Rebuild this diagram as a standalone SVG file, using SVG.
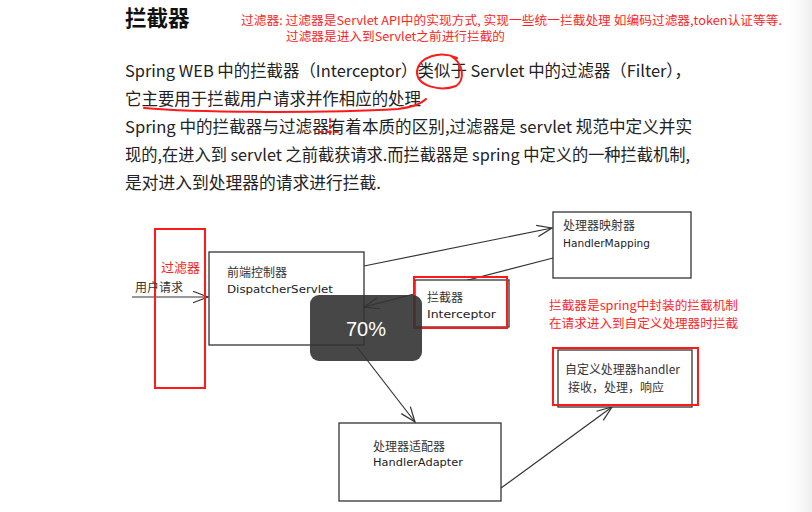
<svg xmlns="http://www.w3.org/2000/svg" width="812" height="512" viewBox="0 0 812 512">
<defs>
<linearGradient id="edge" x1="0" y1="0" x2="1" y2="0">
<stop offset="0" stop-color="#ffffff" stop-opacity="0"/>
<stop offset="1" stop-color="#ededed"/>
</linearGradient>
<marker id="arr" viewBox="0 0 17 13" refX="16" refY="6.5" markerWidth="17" markerHeight="13" markerUnits="userSpaceOnUse" orient="auto">
<path d="M1,0.8 L16,6.5 L1,12.2" fill="none" stroke="#333" stroke-width="1.2"/>
</marker>
<style>
.cjk{font-family:"Noto Sans CJK SC","Noto Sans",sans-serif;}
.para{font-family:"Noto Sans CJK SC","Noto Sans",sans-serif;font-size:16.5px;fill:#222;}
.red{font-family:"Noto Sans CJK SC","Noto Sans",sans-serif;fill:#ff2424;}
.lbl{font-family:"Noto Sans CJK SC",sans-serif;font-size:12px;fill:#333;}
.hand{font-family:"DejaVu Sans","Noto Sans",sans-serif;font-size:11px;fill:#222;}
.box{fill:#fff;stroke:#333;stroke-width:1.3;}
.rbox{fill:none;stroke:#ff1a1a;stroke-width:2;}
.conn{fill:none;stroke:#333;stroke-width:1.2;marker-end:url(#arr);}
.mark{fill:none;stroke:#ff1a1a;stroke-width:2;stroke-linecap:round;}
</style>
</defs>
<rect width="812" height="512" fill="#fff"/>
<rect x="782" y="0" width="30" height="512" fill="url(#edge)"/>

<g id="header">
<text x="125" y="26" class="cjk" font-size="21.5" font-weight="bold" fill="#111">拦截器</text>
<text x="241" y="25" class="red" font-size="12" textLength="541" lengthAdjust="spacingAndGlyphs">过滤器: 过滤器是Servlet API中的实现方式, 实现一些统一拦截处理 如编码过滤器,token认证等等.</text>
<text x="286" y="41" class="red" font-size="12" textLength="219" lengthAdjust="spacingAndGlyphs">过滤器是进入到Servlet之前进行拦截的</text>
</g>

<g id="paragraph">
<text x="125" y="77" class="para" textLength="566" lengthAdjust="spacingAndGlyphs">Spring WEB 中的拦截器（Interceptor）类似于 Servlet 中的过滤器（Filter），</text>
<text x="125" y="105" class="para" textLength="296" lengthAdjust="spacingAndGlyphs">它主要用于拦截用户请求并作相应的处理</text>
<text x="125" y="133" class="para" textLength="567" lengthAdjust="spacingAndGlyphs">Spring 中的拦截器与过滤器有着本质的区别,过滤器是 servlet 规范中定义并实</text>
<text x="125" y="161" class="para" textLength="565" lengthAdjust="spacingAndGlyphs">现的,在进入到 servlet 之前截获请求.而拦截器是 spring 中定义的一种拦截机制,</text>
<text x="125" y="189" class="para" textLength="256" lengthAdjust="spacingAndGlyphs">是对进入到处理器的请求进行拦截.</text>
</g>

<g id="annotations">
<path class="mark" d="M457,58 C440,50 419,57 417,71 C416,86 440,92 456,86 C465,80 464,64 451,56"/>
<path class="mark" d="M144,108 C200,113 330,113 398,109 C414,107 421,104 426,99"/>
<path class="mark" stroke-dasharray="3,3" stroke-width="1.8" d="M330,119 L330,137"/>
<path class="mark" stroke-dasharray="4,4" stroke-width="1.8" d="M319,132 L338,132"/>
</g>

<g id="connectors">
<line class="conn" x1="132" y1="297" x2="208" y2="297" stroke-width="1.6"/>
<line class="conn" x1="364" y1="266" x2="552" y2="228"/>
<line class="conn" x1="557" y1="257" x2="364" y2="307"/>
<line class="conn" x1="357" y1="347" x2="415" y2="422"/>
<line class="conn" x1="501" y1="488" x2="612" y2="407"/>
</g>

<g id="filter">
<rect class="rbox" x="155" y="229" width="50" height="159"/>
<text x="161" y="272" class="red" font-size="13">过滤器</text>
<text x="135" y="292" class="lbl">用户请求</text>
</g>

<g id="dispatcher">
<rect class="box" x="209" y="252" width="155" height="93" fill-opacity="0"/>
<text x="227" y="277" class="lbl">前端控制器</text>
<text x="227" y="293" class="hand" textLength="106" lengthAdjust="spacingAndGlyphs">DispatcherServlet</text>
</g>

<g id="handlerMapping">
<rect class="box" x="553" y="212" width="138" height="66"/>
<text x="563" y="230" class="lbl">处理器映射器</text>
<text x="563" y="247" class="hand" textLength="87" lengthAdjust="spacingAndGlyphs">HandlerMapping</text>
</g>

<g id="interceptor">
<rect class="box" x="415" y="280" width="94" height="47"/>
<rect class="rbox" x="414" y="277" width="93" height="51"/>
<text x="427" y="302" class="lbl">拦截器</text>
<text x="427" y="318" class="hand" textLength="69" lengthAdjust="spacingAndGlyphs">Interceptor</text>
</g>

<g id="interceptorNote">
<text x="549" y="310" class="red" font-size="12" textLength="189" lengthAdjust="spacingAndGlyphs">拦截器是spring中封装的拦截机制</text>
<text x="549" y="328" class="red" font-size="12" textLength="189" lengthAdjust="spacingAndGlyphs">在请求进入到自定义处理器时拦截</text>
</g>

<g id="handler">
<rect class="box" x="558" y="350" width="134" height="57"/>
<rect class="rbox" x="553" y="348" width="145" height="57"/>
<text x="565" y="374" class="lbl" textLength="115" lengthAdjust="spacingAndGlyphs">自定义处理器handler</text>
<text x="568" y="392" class="lbl">接收，处理，响应</text>
</g>

<g id="handlerAdapter">
<rect class="box" x="339" y="423" width="162" height="78"/>
<text x="373" y="451" class="lbl">处理器适配器</text>
<text x="373" y="466" class="hand" textLength="90" lengthAdjust="spacingAndGlyphs">HandlerAdapter</text>
</g>

<g id="zoomOverlay">
<rect x="310" y="295" width="112" height="66" rx="9" fill="#333" fill-opacity="0.9"/>
<text x="366" y="336" font-family="Liberation Sans, Arial, sans-serif" font-size="20" fill="#fff" text-anchor="middle">70%</text>
</g>
</svg>
